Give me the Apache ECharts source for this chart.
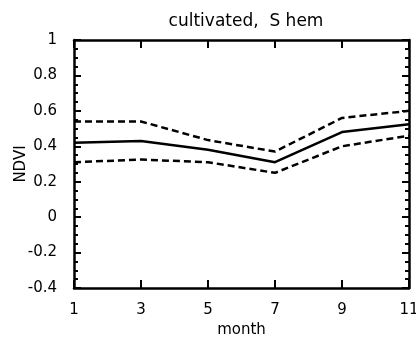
<!DOCTYPE html>
<html>
<head>
<meta charset="UTF-8">
<script src="https://cdn.jsdelivr.net/npm/echarts@6/dist/echarts.min.js"></script>
<style>body{margin:0;background:#fff}</style>
</head>
<body>
<div id="main" style="width:416px;height:341px;"></div>
<script>
var months = [1, 3, 5, 7, 9, 11];
var ndviMean = [0.42, 0.43, 0.38, 0.31, 0.48, 0.525];
var ndviUpper = [0.54, 0.54, 0.435, 0.37, 0.56, 0.60];
var ndviLower = [0.31, 0.325, 0.31, 0.25, 0.40, 0.46];

function pairs(vals) {
    return months.map(function (m, i) { return [m, vals[i]]; });
}

var font = 'DejaVu Sans';
var chart = echarts.init(document.getElementById('main'));
var axLine = {onZero: false, lineStyle: {color: '#000', width: 2.5}};
var yTick = {inside: true, length: 7, lineStyle: {color: '#000', width: 2}};
var yMinor = {show: true, splitNumber: 4, length: 4, lineStyle: {color: '#000', width: 2}};
var xTick = {inside: true, length: 8, lineStyle: {color: '#000', width: 2}};
var txt = {fontFamily: font, fontSize: 15, color: '#000'};

chart.setOption({
    animation: false,
    title: {
        text: 'cultivated,  S hem', left: 241, top: 8, textAlign: 'center',
        textStyle: {fontFamily: font, fontWeight: 'normal', fontSize: 17, color: '#000'}
    },
    grid: {left: 74, right: 7, top: 40, bottom: 53, containLabel: false, outerBoundsMode: 'none'},
    xAxis: [{
        type: 'value', min: 1, max: 11, interval: 2,
        name: 'month', nameLocation: 'middle', nameGap: 33,
        nameTextStyle: txt,
        axisLine: axLine, axisTick: xTick, splitLine: {show: false},
        axisLabel: Object.assign({margin: 15}, txt)
    }, {
        type: 'value', min: 1, max: 11, interval: 2, position: 'top',
        axisLine: axLine, axisTick: xTick, splitLine: {show: false},
        axisLabel: {show: false}
    }],
    yAxis: [{
        type: 'value', min: -0.4, max: 1, interval: 0.2,
        name: 'NDVI', nameLocation: 'middle', nameGap: 45, nameMoveOverlap: false,
        nameTextStyle: txt,
        axisLine: axLine, axisTick: yTick, minorTick: yMinor, splitLine: {show: false},
        axisLabel: Object.assign({margin: 17,
            formatter: function (v) { return String(Math.round(v * 10) / 10); }}, txt)
    }, {
        type: 'value', min: -0.4, max: 1, interval: 0.2, position: 'right',
        axisLine: axLine, axisTick: yTick, minorTick: yMinor, splitLine: {show: false},
        axisLabel: {show: false}
    }],
    series: [{
        type: 'line', data: pairs(ndviMean), symbol: 'none',
        lineStyle: {color: '#000', width: 2.5}
    }, {
        type: 'line', data: pairs(ndviUpper), symbol: 'none',
        lineStyle: {color: '#000', width: 2.5, type: [7, 4]}
    }, {
        type: 'line', data: pairs(ndviLower), symbol: 'none',
        lineStyle: {color: '#000', width: 2.5, type: [7, 4]}
    }]
});
</script>
</body>
</html>
